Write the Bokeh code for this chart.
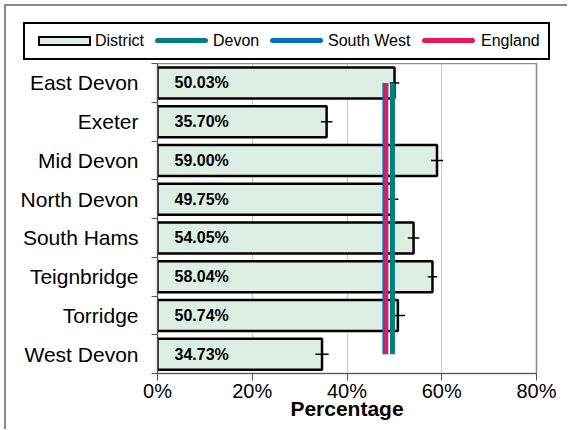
from bokeh.plotting import figure
from bokeh.layouts import column
from bokeh.models import FixedTicker, ColumnDataSource, Div
from bokeh.core.properties import value
from bokeh.embed import file_html
from bokeh.resources import INLINE

districts = ["East Devon", "Exeter", "Mid Devon", "North Devon", "South Hams",
             "Teignbridge", "Torridge", "West Devon"]
district_pct = [50.03, 35.70, 59.00, 49.75, 54.05, 58.04, 50.74, 34.73]
district_err = [1.0, 1.2, 1.3, 1.1, 1.2, 1.0, 1.5, 1.4]
devon_pct = 49.6
south_west_pct = 47.9
england_pct = 48.3
x_ticks = [0, 20, 40, 60, 80]
x_tick_labels = ["0%", "20%", "40%", "60%", "80%"]
legend_labels = ["District", "Devon", "South West", "England"]

FONT = "Liberation Sans"
BAR_FILL = "#dcefe2"
C_DEVON, C_SW, C_ENG = "#008080", "#0070c0", "#e8185a"
n = len(districts)
ypos = [n - i - 0.5 for i in range(n)]

src = ColumnDataSource(dict(
    y=ypos, v=district_pct,
    lo=[v - e for v, e in zip(district_pct, district_err)],
    hi=[v + e for v, e in zip(district_pct, district_err)],
    lab=["%.2f%%" % v for v in district_pct],
))

W = 561
LH = 57
H = 423 - LH

# ---- legend strip (HTML) ----
glyph_lefts = [32, 149, 264, 416]
label_lefts = [89, 207, 322, 475]
glyph_css = [
    "height:10px;top:30px;box-sizing:border-box;border:2px solid black;background:%s;" % BAR_FILL,
    "height:5px;top:32px;border-radius:3px;background:%s;" % C_DEVON,
    "height:5px;top:32px;border-radius:3px;background:%s;" % C_SW,
    "height:5px;top:32px;border-radius:3px;background:%s;" % C_ENG,
]
parts = ['<div style="position:absolute;left:17px;top:16px;width:527px;height:38px;'
         'box-sizing:border-box;border:2px solid black;background:white;"></div>']
for gl, ll, css, lab in zip(glyph_lefts, label_lefts, glyph_css, legend_labels):
    parts.append('<div style="position:absolute;left:%dpx;width:53px;%s"></div>' % (gl, css))
    parts.append('<div style="position:absolute;left:%dpx;top:25px;line-height:20px;'
                 'white-space:nowrap;">%s</div>' % (ll, lab))
legend_html = ('<div style="position:relative;width:%dpx;height:%dpx;font-family:\'%s\';'
               'font-size:16px;color:black;">%s</div>' % (W, LH, FONT, "".join(parts)))
legend_div = Div(text=legend_html, width=W, height=LH, margin=0)

# ---- main chart ----
p = figure(width=W, height=H, output_backend="svg", toolbar_location=None,
           x_range=(0, 80), y_range=(0, n), margin=0,
           min_border_left=151, min_border_right=31, min_border_top=0, min_border_bottom=56)
p.background_fill_color = "white"
p.border_fill_color = "white"
p.outline_line_color = "#8c8c8c"
p.outline_line_width = 1.5

p.hbar(y="y", right="v", left=0, height=0.8, source=src,
       fill_color=BAR_FILL, line_color="black", line_width=2.5)
p.segment(x0="lo", x1="hi", y0="y", y1="y", source=src, line_color="black", line_width=1.5)
p.text(x=0, y="y", text="lab", source=src, x_offset=17,
       text_font=value(FONT), text_font_style="bold", text_font_size="16px",
       text_baseline="middle", text_align="left", text_color="black")

ytop, ybot = ypos[0], ypos[-1]
p.segment(x0=[south_west_pct], x1=[south_west_pct], y0=[ybot], y1=[ytop],
          line_color=C_SW, line_width=4)
p.segment(x0=[england_pct], x1=[england_pct], y0=[ybot], y1=[ytop],
          line_color=C_ENG, line_width=4)
p.segment(x0=[devon_pct], x1=[devon_pct], y0=[ybot], y1=[ytop],
          line_color=C_DEVON, line_width=5)

p.xaxis.ticker = FixedTicker(ticks=x_ticks)
p.xaxis.major_label_overrides = dict(zip(x_ticks, x_tick_labels))
p.xaxis.major_label_text_font = FONT
p.xaxis.major_label_text_font_size = "20px"
p.xaxis.major_label_text_color = "black"
p.xaxis.major_tick_out = 7
p.xaxis.major_tick_in = 0
p.xaxis.minor_tick_line_color = None
p.xaxis.major_label_standoff = -1
p.xaxis.axis_label = "Percentage"
p.xaxis.axis_label_text_font = FONT
p.xaxis.axis_label_text_font_style = "bold"
p.xaxis.axis_label_text_font_size = "21px"
p.xaxis.axis_label_text_color = "black"
p.xaxis.axis_label_standoff = -8
p.xaxis.axis_line_color = "#555555"
p.xaxis.major_tick_line_color = "#555555"

p.yaxis.ticker = FixedTicker(ticks=ypos, minor_ticks=list(range(n + 1)))
p.yaxis.major_label_overrides = {y: d for y, d in zip(ypos, districts)}
p.yaxis.major_label_text_font = FONT
p.yaxis.major_label_text_font_size = "21px"
p.yaxis.major_label_text_color = "black"
p.yaxis.major_tick_out = 0
p.yaxis.major_tick_in = 0
p.yaxis.minor_tick_out = 6
p.yaxis.minor_tick_in = 0
p.yaxis.minor_tick_line_color = "#555555"
p.yaxis.major_label_standoff = 13
p.yaxis.axis_line_color = "#555555"

p.xgrid.grid_line_color = "#c8c8c8"
p.ygrid.grid_line_color = None

layout = column(legend_div, p, spacing=0,
                styles={"margin-left": "4px", "margin-top": "4px",
                        "border-left": "2px solid #8c8c8c",
                        "border-top": "2px solid #8c8c8c"})

open("out.html", "w").write(file_html(layout, INLINE))
